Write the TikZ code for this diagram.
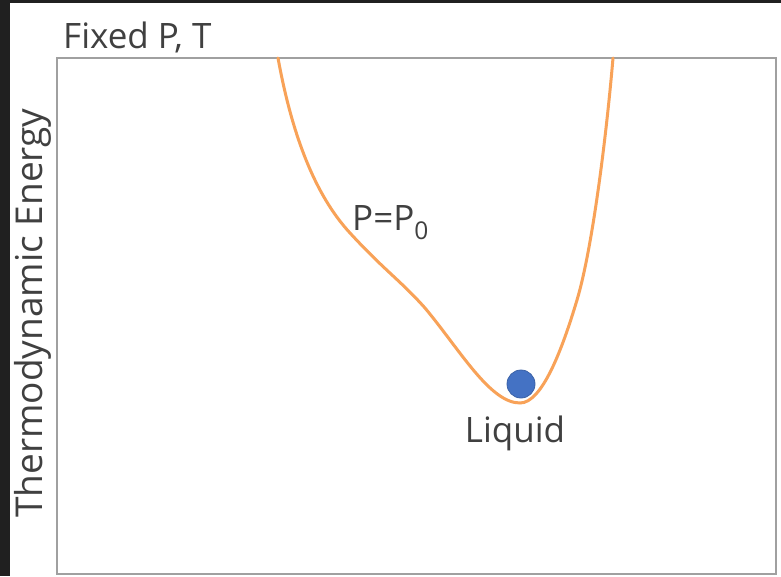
\documentclass[tikz,border=0pt]{standalone}
\usepackage{fontspec}
\setmainfont{Open Sans}
\definecolor{bgdark}{RGB}{32,32,32}
\definecolor{txtgray}{RGB}{64,64,64}
\definecolor{framegray}{RGB}{160,160,160}
\definecolor{curveorange}{RGB}{248,162,88}
\definecolor{dotblue}{RGB}{68,114,196}
\begin{document}
\begin{tikzpicture}[x=1pt,y=-1pt,
  lbl/.style={inner sep=0pt, text=txtgray, font=\fontsize{35}{42}\selectfont},
  curvestyle/.style={draw=curveorange, line width=3pt, line cap=round},
  ballstyle/.style={circle, fill=dotblue, draw=dotblue!85!black, line width=0.8pt, minimum size=28pt, inner sep=0pt}]
  \useasboundingbox (0,0) rectangle (781,576);
  \fill[bgdark] (0,0) rectangle (781,576);
  \fill[white] (10,3) rectangle (781,576);
  \draw[framegray, line width=1.6pt] (57,58) rectangle (776,574);
  % curve
  \draw[curvestyle] (278,58) .. controls (292,135) and (315,195) .. (350,233)
    .. controls (385,271) and (400,280) .. (425,308)
    .. controls (460,350) and (490,403) .. (520,403)
    .. controls (542,403) and (562,350) .. (577,300)
    .. controls (592,250) and (606,140) .. (613,58);
  \node[ballstyle] (ball) at (521,384) {};
  \node[lbl, anchor=base west] (title) at (63,48) {Fixed P, T};
  \node[lbl, anchor=base west] (plabel) at (352,230) {P=P\textsubscript{0}};
  \node[lbl, anchor=base] (liquid) at (515,442) {Liquid};
  \node[lbl, rotate=90, anchor=base, font=\fontsize{37}{44}\selectfont] (ylab) at (42,313) {Thermodynamic Energy};
\end{tikzpicture}
\end{document}
